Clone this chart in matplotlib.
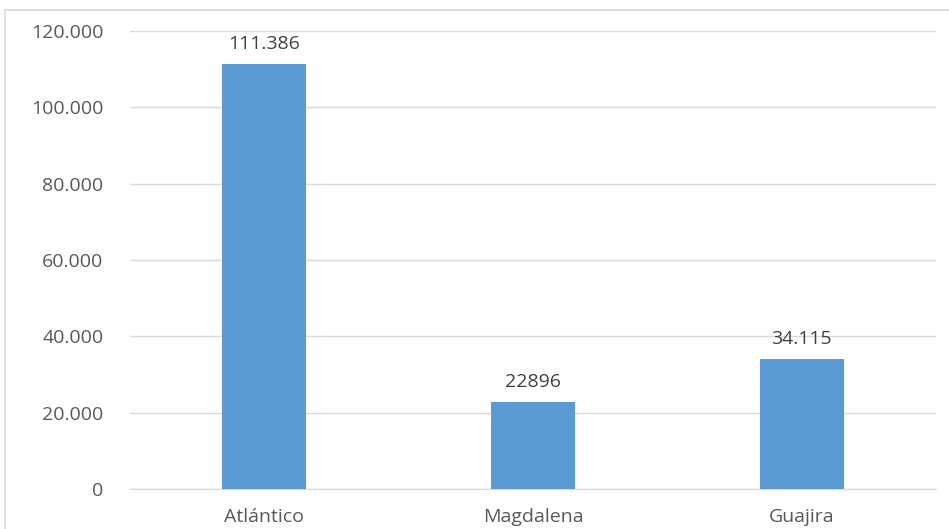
import matplotlib.pyplot as plt
from matplotlib.patches import Rectangle
from matplotlib.ticker import FuncFormatter

# Datos por departamento
departamentos = ["Atlántico", "Magdalena", "Guajira"]
valores = [111386, 22896, 34115]
etiquetas = ["111.386", "22896", "34.115"]

plt.rcParams["font.family"] = ["Open Sans", "DejaVu Sans"]

fig = plt.figure(figsize=(9.49, 5.29), dpi=100)
ax = fig.add_axes([130 / 949, 1 - 489 / 529, 806 / 949, 458 / 529])

# Marco del gráfico (cortado a la derecha y abajo)
fig.patches.append(Rectangle((5 / 949, -0.1), 1.2, 1 - 10 / 529 + 0.1,
                             transform=fig.transFigure, fill=False,
                             edgecolor="#d9d9d9", linewidth=1.2))

x = range(len(departamentos))
ax.bar(x, valores, width=0.313, color="#5b9bd5", zorder=3)

for xi, v, t in zip(x, valores, etiquetas):
    ax.text(xi, v + 2800, t, ha="center", va="bottom", fontsize=14, color="#404040")

ax.set_ylim(0, 120000)
ax.set_xlim(-0.5, 2.5)
ax.set_yticks(range(0, 120001, 20000))
ax.yaxis.set_major_formatter(FuncFormatter(lambda v, p: "0" if v == 0 else f"{int(v):,}".replace(",", ".")))
ax.set_xticks(list(x))
ax.set_xticklabels(departamentos)

ax.grid(axis="y", color="#d9d9d9", linewidth=1, zorder=0)
for s in ["top", "right", "left"]:
    ax.spines[s].set_visible(False)
ax.spines["bottom"].set_color("#d9d9d9")
ax.tick_params(axis="both", length=0, labelsize=14, labelcolor="#595959")
ax.tick_params(axis="y", pad=19)
ax.tick_params(axis="x", pad=14)

fig.savefig("out.png", dpi=100)
